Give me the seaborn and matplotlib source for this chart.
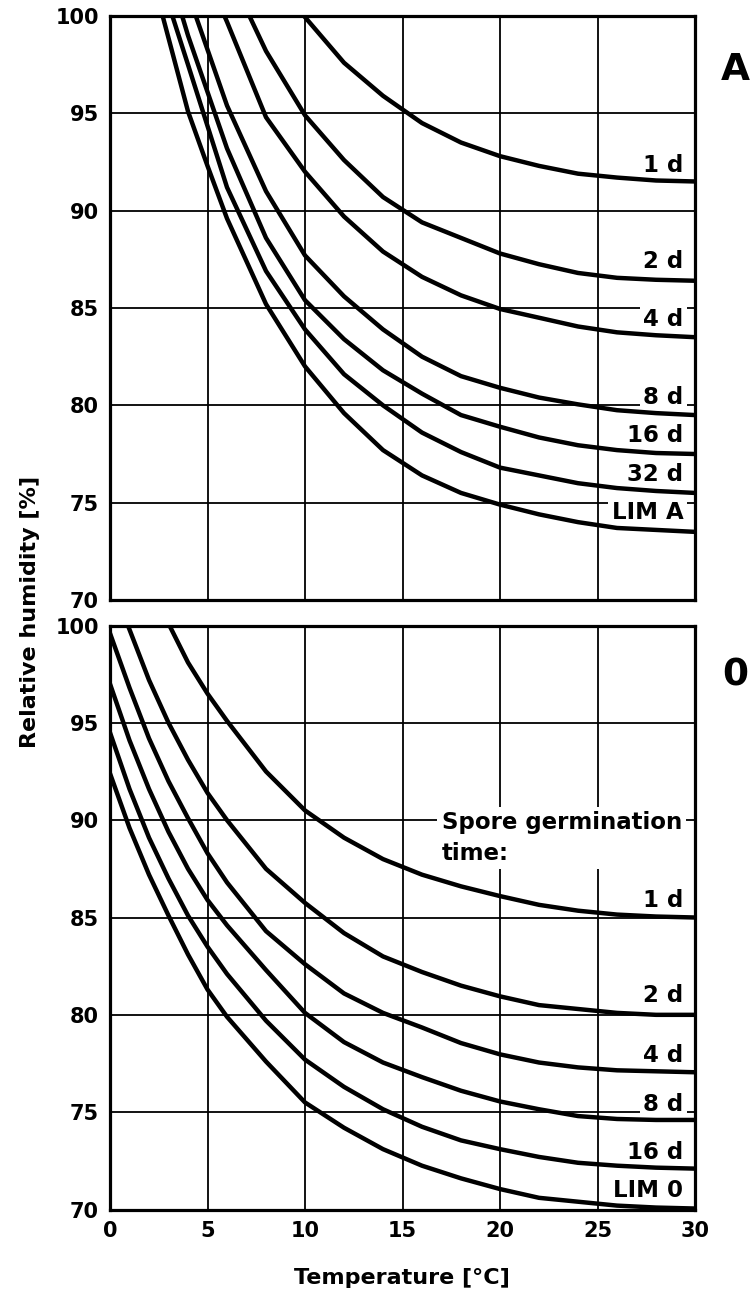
import matplotlib
matplotlib.use('Agg')
import matplotlib.pyplot as plt
import pandas as pd
import seaborn as sns

# Curve data: temperature [°C] vs relative humidity [%]

# Panel A
a_lim_t = [2.7, 4, 5, 6, 8, 10, 12, 14, 16, 18, 20, 22, 24, 26, 28, 30]
a_lim_rh = [100, 95.1, 92.3, 89.6, 85.2, 82.0, 79.6, 77.7, 76.4, 75.5, 74.9, 74.4, 74.0, 73.7, 73.6, 73.5]
a_32d_t = [3.2, 4, 6, 8, 10, 12, 14, 16, 18, 20, 22, 24, 26, 28, 30]
a_32d_rh = [100, 97.5, 91.2, 86.9, 83.9, 81.6, 80.0, 78.6, 77.6, 76.8, 76.4, 76.0, 75.75, 75.6, 75.5]
a_16d_t = [3.7, 4, 6, 8, 10, 12, 14, 16, 18, 20, 22, 24, 26, 28, 30]
a_16d_rh = [100, 99.0, 93.2, 88.6, 85.4, 83.4, 81.8, 80.6, 79.5, 78.9, 78.35, 77.95, 77.7, 77.55, 77.5]
a_8d_t = [4.4, 6, 8, 10, 12, 14, 16, 18, 20, 22, 24, 26, 28, 30]
a_8d_rh = [100, 95.4, 91.0, 87.7, 85.6, 83.9, 82.5, 81.5, 80.9, 80.4, 80.05, 79.75, 79.6, 79.5]
a_4d_t = [5.87, 6, 8, 10, 12, 14, 16, 18, 20, 22, 24, 26, 28, 30]
a_4d_rh = [100, 99.7, 94.8, 92.0, 89.7, 87.9, 86.6, 85.65, 84.95, 84.5, 84.05, 83.75, 83.6, 83.5]
a_2d_t = [7.15, 8, 10, 12, 14, 16, 18, 20, 22, 24, 26, 28, 30]
a_2d_rh = [100, 98.2, 94.9, 92.6, 90.7, 89.4, 88.6, 87.8, 87.25, 86.8, 86.55, 86.45, 86.4]
a_1d_t = [9.95, 12, 14, 16, 18, 20, 22, 24, 26, 28, 30]
a_1d_rh = [100, 97.6, 95.9, 94.5, 93.5, 92.8, 92.3, 91.9, 91.7, 91.55, 91.5]

# Panel 0
z_1d_t = [3.05, 4, 5, 6, 8, 10, 12, 14, 16, 18, 20, 22, 24, 26, 28, 30]
z_1d_rh = [100, 98.1, 96.5, 95.1, 92.5, 90.5, 89.1, 88.0, 87.2, 86.6, 86.1, 85.65, 85.35, 85.15, 85.05, 85.0]
z_2d_t = [0.92, 2, 3, 4, 5, 6, 8, 10, 12, 14, 16, 18, 20, 22, 24, 26, 28, 30]
z_2d_rh = [100, 97.2, 95.0, 93.1, 91.4, 90.0, 87.5, 85.75, 84.2, 83.0, 82.2, 81.5, 80.95, 80.5, 80.3, 80.1, 80.0, 80.0]
z_t = [0, 1, 2, 3, 4, 5, 6, 8, 10, 12, 14, 16, 18, 20, 22, 24, 26, 28, 30]
z_4d_rh = [99.6, 96.8, 94.2, 92.0, 90.1, 88.3, 86.8, 84.3, 82.6, 81.1, 80.1, 79.35, 78.55, 77.97, 77.55, 77.3, 77.15, 77.1, 77.05]
z_8d_rh = [97.0, 94.1, 91.6, 89.4, 87.5, 85.9, 84.6, 82.3, 80.1, 78.6, 77.55, 76.8, 76.1, 75.55, 75.15, 74.8, 74.65, 74.6, 74.6]
z_16d_rh = [94.5, 91.6, 89.1, 87.0, 85.1, 83.5, 82.1, 79.7, 77.7, 76.3, 75.15, 74.25, 73.55, 73.1, 72.7, 72.4, 72.25, 72.15, 72.1]
z_lim_rh = [92.4, 89.6, 87.2, 85.1, 83.1, 81.3, 79.9, 77.6, 75.5, 74.2, 73.1, 72.25, 71.6, 71.05, 70.6, 70.4, 70.2, 70.1, 70.05]

labels_a = ['1 d', '2 d', '4 d', '8 d', '16 d', '32 d', 'LIM A']
labels_0 = ['1 d', '2 d', '4 d', '8 d', '16 d', 'LIM 0']
# baselines of the curve labels (in %)
label_pos_a = [92.0, 87.08, 84.05, 80.05, 78.1, 76.1, 74.15]
label_pos_0 = [85.56, 80.64, 77.56, 75.05, 72.59, 70.64]


def to_frame(curves):
    rows = []
    for name, t, rh in curves:
        for x, y in zip(t, rh):
            rows.append({'curve': name, 'temp': x, 'rh': y})
    return pd.DataFrame(rows)


df_a = to_frame([
    ('LIM A', a_lim_t, a_lim_rh), ('32 d', a_32d_t, a_32d_rh),
    ('16 d', a_16d_t, a_16d_rh), ('8 d', a_8d_t, a_8d_rh),
    ('4 d', a_4d_t, a_4d_rh), ('2 d', a_2d_t, a_2d_rh),
    ('1 d', a_1d_t, a_1d_rh),
])
df_0 = to_frame([
    ('1 d', z_1d_t, z_1d_rh), ('2 d', z_2d_t, z_2d_rh),
    ('4 d', z_t, z_4d_rh), ('8 d', z_t, z_8d_rh),
    ('16 d', z_t, z_16d_rh), ('LIM 0', z_t, z_lim_rh),
])

sns.set_style('white')
plt.rcParams['font.family'] = ['DejaVu Sans']
plt.rcParams['font.weight'] = 'bold'
plt.rcParams['text.color'] = 'black'
plt.rcParams['xtick.color'] = 'black'
plt.rcParams['ytick.color'] = 'black'

fig = plt.figure(figsize=(7.55, 12.95), dpi=100)
ax_a = fig.add_axes([110 / 755, 1 - 600 / 1295, 585 / 755, 584 / 1295])
ax_0 = fig.add_axes([110 / 755, 1 - 1209.5 / 1295, 585 / 755, 584 / 1295])

box = dict(facecolor='white', edgecolor='none', pad=2.5)

for ax, df, labels, pos in [(ax_a, df_a, labels_a, label_pos_a),
                            (ax_0, df_0, labels_0, label_pos_0)]:
    sns.lineplot(data=df, x='temp', y='rh', units='curve', estimator=None,
                 sort=False, color='black', linewidth=3.2, ax=ax, zorder=4)
    ax.set_xlim(0, 30)
    ax.set_ylim(70, 100)
    ax.set_xticks(range(0, 31, 5))
    ax.set_yticks(range(70, 101, 5))
    ax.grid(True, color='black', linewidth=1.3)
    ax.set_axisbelow(True)
    ax.tick_params(length=0, labelsize=15, pad=8, colors='black')
    ax.set_xlabel('')
    ax.set_ylabel('')
    for s in ax.spines.values():
        s.set_linewidth(2.3)
        s.set_color('black')
        s.set_zorder(5)
    for txt, y in zip(labels, pos):
        ax.text(29.4, y, txt, ha='right', va='baseline', fontsize=16.5,
                bbox=box, zorder=3)

ax_a.tick_params(labelbottom=False)
ax_0.text(17.0, 90.45, 'Spore germination\ntime:', ha='left', va='top',
          fontsize=16.5, linespacing=1.4,
          bbox=dict(facecolor='white', edgecolor='none', pad=3), zorder=3)

fig.text(30 / 755, 1 - 612 / 1295, 'Relative humidity [%]', rotation=90,
         ha='center', va='center', fontsize=16)
fig.text(402 / 755, 1 - 1278 / 1295, 'Temperature [°C]', ha='center',
         va='center', fontsize=16)
fig.text(735 / 755, 1 - 70 / 1295, 'A', ha='center', va='center', fontsize=27)
fig.text(735 / 755, 1 - 675 / 1295, '0', ha='center', va='center', fontsize=27)

fig.savefig('out.png', dpi=100)
